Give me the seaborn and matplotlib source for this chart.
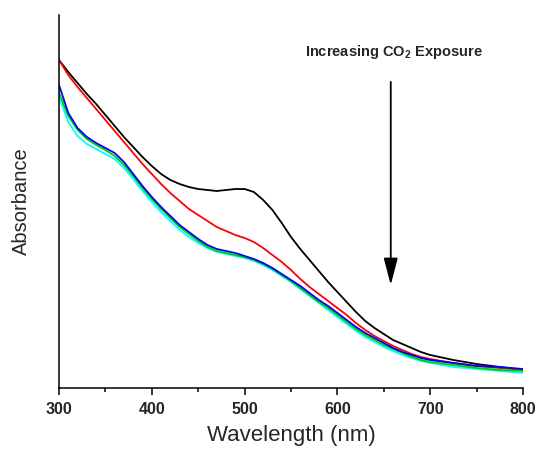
import matplotlib
matplotlib.use("Agg")
import matplotlib.pyplot as plt
import seaborn as sns
import pandas as pd
from matplotlib.ticker import MultipleLocator

wavelength = [300, 310, 320, 330, 340, 350, 360, 370, 380, 390,
              400, 410, 420, 430, 440, 450, 460, 470, 480, 490,
              500, 510, 520, 530, 540, 550, 560, 570, 580, 590,
              600, 610, 620, 630, 640, 650, 660, 670, 680, 690,
              700, 725, 750, 775, 800]

abs_0 = [3.28, 3.16, 3.05, 2.94, 2.84, 2.73, 2.62, 2.51, 2.41, 2.31,
         2.22, 2.14, 2.08, 2.04, 2.01, 1.99, 1.98, 1.97, 1.98, 1.99,
         1.99, 1.96, 1.88, 1.78, 1.65, 1.51, 1.39, 1.28, 1.17, 1.06,
         0.96, 0.86, 0.76, 0.67, 0.60, 0.54, 0.48, 0.44, 0.40, 0.36,
         0.33, 0.28, 0.24, 0.21, 0.18]
abs_1 = [3.28, 3.13, 3.01, 2.90, 2.79, 2.68, 2.57, 2.46, 2.35, 2.24,
         2.14, 2.04, 1.95, 1.87, 1.79, 1.73, 1.67, 1.61, 1.57, 1.53,
         1.50, 1.46, 1.40, 1.33, 1.26, 1.18, 1.09, 1.01, 0.94, 0.87,
         0.80, 0.73, 0.65, 0.58, 0.52, 0.47, 0.42, 0.38, 0.34, 0.31,
         0.29, 0.25, 0.22, 0.20, 0.18]
abs_2 = [3.03, 2.75, 2.60, 2.51, 2.45, 2.40, 2.35, 2.26, 2.14, 2.02,
         1.91, 1.81, 1.72, 1.63, 1.56, 1.49, 1.43, 1.39, 1.37, 1.35,
         1.32, 1.29, 1.25, 1.20, 1.14, 1.08, 1.02, 0.95, 0.88, 0.82,
         0.75, 0.68, 0.61, 0.55, 0.50, 0.45, 0.40, 0.36, 0.33, 0.30,
         0.28, 0.25, 0.22, 0.21, 0.19]
abs_3 = [2.95, 2.72, 2.58, 2.49, 2.43, 2.38, 2.32, 2.23, 2.12, 2.00,
         1.89, 1.79, 1.70, 1.61, 1.54, 1.47, 1.41, 1.37, 1.35, 1.33,
         1.31, 1.28, 1.24, 1.19, 1.13, 1.07, 1.00, 0.93, 0.86, 0.80,
         0.73, 0.66, 0.59, 0.53, 0.48, 0.43, 0.39, 0.35, 0.31, 0.28,
         0.26, 0.23, 0.20, 0.18, 0.17]
abs_4 = [2.91, 2.66, 2.52, 2.44, 2.39, 2.34, 2.29, 2.20, 2.09, 1.97,
         1.86, 1.76, 1.67, 1.58, 1.51, 1.45, 1.40, 1.36, 1.34, 1.32,
         1.30, 1.27, 1.23, 1.18, 1.12, 1.06, 0.99, 0.92, 0.85, 0.78,
         0.71, 0.64, 0.57, 0.51, 0.46, 0.41, 0.37, 0.33, 0.30, 0.27,
         0.25, 0.21, 0.19, 0.17, 0.15]

series_names = ["s0", "s1", "s4", "s3", "s2"]
series_colors = ["#000000", "#ff0000", "#00ffff", "#00d000", "#0000ff"]
series_values = [abs_0, abs_1, abs_4, abs_3, abs_2]

rows = []
for name, vals in zip(series_names, series_values):
    for w, v in zip(wavelength, vals):
        rows.append({"Wavelength": w, "Absorbance": v, "series": name})
df = pd.DataFrame(rows)

sns.set_style("white")
plt.rcParams["font.family"] = ["Liberation Sans", "DejaVu Sans"]
plt.rcParams["mathtext.fontset"] = "custom"
plt.rcParams["mathtext.rm"] = "Liberation Sans"
plt.rcParams["mathtext.bf"] = "Liberation Sans:bold"

fig = plt.figure(figsize=(5.37, 4.53), dpi=100)
ax = fig.add_axes([59 / 537, 65 / 453, 464 / 537, 373 / 453])

sns.lineplot(data=df, x="Wavelength", y="Absorbance", hue="series",
             hue_order=series_names, palette=series_colors,
             linewidth=1.3, legend=False, ax=ax)

ax.set_xlim(300, 800)
ax.set_ylim(0, 3.73)
ax.xaxis.set_major_locator(MultipleLocator(100))
ax.xaxis.set_minor_locator(MultipleLocator(50))
ax.set_yticks([])
ax.tick_params(axis="x", which="major", direction="out", length=5, width=1.1,
               bottom=True, labelsize=11.5, pad=5, color="black")
ax.tick_params(axis="x", which="minor", direction="out", length=3, width=1.1,
               bottom=True, color="black")
for lab in ax.get_xticklabels():
    lab.set_fontweight("bold")

for side in ["top", "right"]:
    ax.spines[side].set_visible(False)
for side in ["left", "bottom"]:
    ax.spines[side].set_color("black")
    ax.spines[side].set_linewidth(1.1)

ax.set_xlabel("Wavelength (nm)", fontsize=16, labelpad=6)
ax.set_ylabel("Absorbance", fontsize=14.5, labelpad=20)

ax.annotate("", xy=(657.5, 1.03), xytext=(657.5, 3.06),
            arrowprops=dict(arrowstyle="-|>,head_length=1.65,head_width=0.43",
                            mutation_scale=10, color="black", lw=1.3,
                            shrinkA=0, shrinkB=0))
ax.text(661, 3.36, "Increasing CO$_\\mathbf{2}$ Exposure", ha="center",
        va="center", fontsize=10.5, fontweight="bold")

fig.savefig("out.png", dpi=100)
